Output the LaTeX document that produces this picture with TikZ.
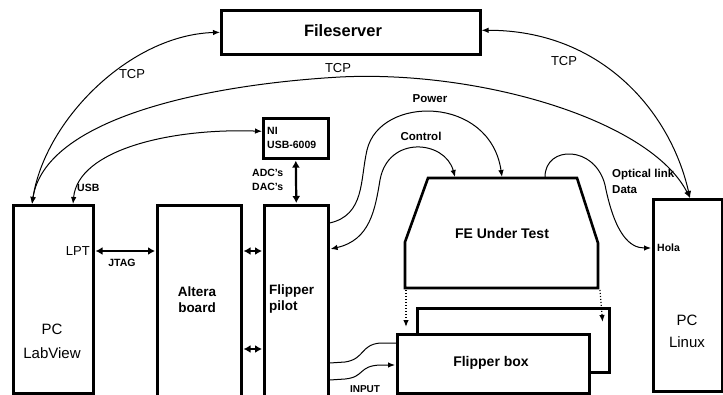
\documentclass[tikz,border=0pt]{standalone}
\usepackage{fontspec}
\setmainfont{Liberation Sans}
\usetikzlibrary{arrows.meta,calc}
\definecolor{Pen}{HTML}{000000}
\newcommand{\Unit}[5]{%
  \node[unit,minimum width=#4pt,minimum height=#5pt] (#1) at (#2,#3) {};%
}

\begin{document}
\begin{tikzpicture}[x=1pt,y=-1pt,
  unit/.style={draw=Pen,line width=2.6pt,fill=white,anchor=north west,inner sep=0pt},
  wire/.style={draw=Pen,line width=1pt},
  oneway/.style={-{Latex[length=7pt,width=5.5pt]}},
  twoway/.style={{Latex[length=7pt,width=5.5pt]}-{Latex[length=7pt,width=5.5pt]}},
  bus/.style={draw=Pen,line width=2.2pt,{Latex[length=7pt,width=8pt]}-{Latex[length=7pt,width=8pt]}},
  bigtext/.style={font=\fontsize{16.5}{19}\selectfont\bfseries,inner sep=0pt},
  boxtext/.style={font=\fontsize{13.5}{16}\selectfont\bfseries,inner sep=0pt},
  pctext/.style={font=\fontsize{15}{24}\selectfont,inner sep=0pt,align=center},
  tcptext/.style={font=\fontsize{13}{15}\selectfont,inner sep=0pt},
  tagtext/.style={font=\fontsize{10.5}{14.5}\selectfont\bfseries,inner sep=0pt},
  midtext/.style={font=\fontsize{11.5}{16}\selectfont\bfseries,inner sep=0pt}]
\useasboundingbox (0,0) rectangle (723,394);
\clip (0,0) rectangle (723,394);

% boxes
\Unit{fs}{220}{9}{259}{44}
\Unit{lab}{12}{204}{80}{188}
\Unit{alt}{156}{204}{84}{210}
\Unit{pil}{263}{204}{64}{210}
\Unit{ni}{262}{117}{65}{40}
\Unit{lin}{652}{198}{69}{192}
\Unit{fbBack}{416}{307}{192}{64}
\Unit{fb}{396}{333}{192}{59}
\draw[draw=Pen,line width=2.6pt,line join=miter] (428,178) -- (577,178) -- (598,243)
  -- (598,288) -- (405,288) -- (405,242) -- cycle;
\coordinate (feCtl) at (455,177);
\coordinate (fePow) at (502,177);
\coordinate (feOpt) at (545,177);
\coordinate (feBL) at (406,290);
\coordinate (feBR) at (600,290);

% texts
\node[bigtext] (fsT) at (343,31) {Fileserver};
\node[pctext] (labT) at (52,341) {PC\\LabView};
\node[tcptext,anchor=east] (lpt) at (90,251) {LPT};
\node[boxtext,align=center] (altT) at (197,300) {Altera\\board};
\node[boxtext,align=left,anchor=west] (pilT) at (269,299) {Flipper\\pilot};
\node[tagtext,align=left,anchor=west] (niT) at (267,138) {NI\\USB-6009};
\node[bigtext,font=\fontsize{14}{17}\selectfont\bfseries] (feT) at (502,233) {FE Under Test};
\node[bigtext,font=\fontsize{14}{17}\selectfont\bfseries] (fbT) at (491,363) {Flipper box};
\node[pctext,font=\fontsize{15}{22}\selectfont] (linT) at (687,331) {PC\\Linux};

% network links
\draw[wire,twoway] ($(lab.north west)+(20,0)$) .. controls (45,120) and (130,35) .. (fs.west);
\draw[wire,twoway] ($(lab.north west)+(20,0)$) .. controls (45,120) and (200,85) .. (340,77)
  .. controls (480,70) and (650,120) .. ($(lin.north west)+(38,0)$);
\draw[wire,twoway] ($(fs.east)+(0,-2)$) .. controls (600,30) and (670,110) .. ($(lin.north west)+(38,0)$);
\node[tcptext] (tcpA) at (132,74) {TCP};
\node[tcptext] (tcpB) at (338,68) {TCP};
\node[tcptext] (tcpC) at (564,61) {TCP};
\draw[wire,twoway] ($(lab.north west)+(61,0)$) .. controls (78,150) and (170,128) .. ($(ni.west)+(0,-7)$);
\node[tagtext,anchor=west] (usb) at (77,188) {USB};

% buses
\draw[bus] ($(lab.north east)+(1,47)$) -- ($(alt.north west)+(-1,47)$);
\node[tagtext] (jtag) at (122,263) {JTAG};
\draw[bus] ($(alt.north east)+(1,47)$) -- ($(pil.north west)+(-1,47)$);
\draw[bus] ($(alt.north east)+(1,145)$) -- ($(pil.north west)+(-1,145)$);
\draw[bus] ($(ni.south)+(0,1)$) -- ($(pil.north)+(0,-1)$);
\node[tagtext,align=left,anchor=west] (adc) at (252,180) {ADC's\\DAC's};

% front end links
\draw[wire,oneway] ($(pil.north east)+(0,19)$) .. controls (365,215) and (360,180) .. (367,150)
  .. controls (380,95) and (490,95) .. (fePow);
\node[midtext] (pow) at (430,99) {Power};
\draw[wire,twoway] ($(pil.north east)+(1,45)$) .. controls (370,240) and (375,210) .. (380,180)
  .. controls (388,135) and (445,140) .. (feCtl);
\node[midtext] (ctl) at (421,136) {Control};
\draw[wire,oneway] (feOpt) .. controls (545,145) and (595,145) .. (605,185)
  .. controls (615,235) and (630,248) .. ($(lin.north west)+(-1,50)$);
\node[midtext,align=left,anchor=west] (opt) at (612,181) {Optical link\\Data};
\node[tagtext,anchor=west] (hola) at (657,248) {Hola};

% inputs
\draw[wire] ($(pil.north east)+(0,159)$) -- (345,362) .. controls (365,359) and (360,345) .. (380,343)
  -- ($(fb.north west)+(0,10)$);
\draw[wire,oneway] ($(pil.north east)+(0,176)$) -- (345,379) .. controls (365,377) and (358,366) .. (380,365)
  -- ($(fb.north west)+(-1,32)$);
\node[tagtext,font=\fontsize{10}{12}\selectfont\bfseries] (inp) at (365,389) {INPUT};

% mounting
\draw[wire,dotted,line width=1.3pt,oneway] (feBL) -- ($(fb.north west)+(10,-6)$);
\draw[wire,dotted,line width=1.3pt,oneway] (feBR) -- ($(fbBack.north east)+(-8,15)$);
\end{tikzpicture}
\end{document}
